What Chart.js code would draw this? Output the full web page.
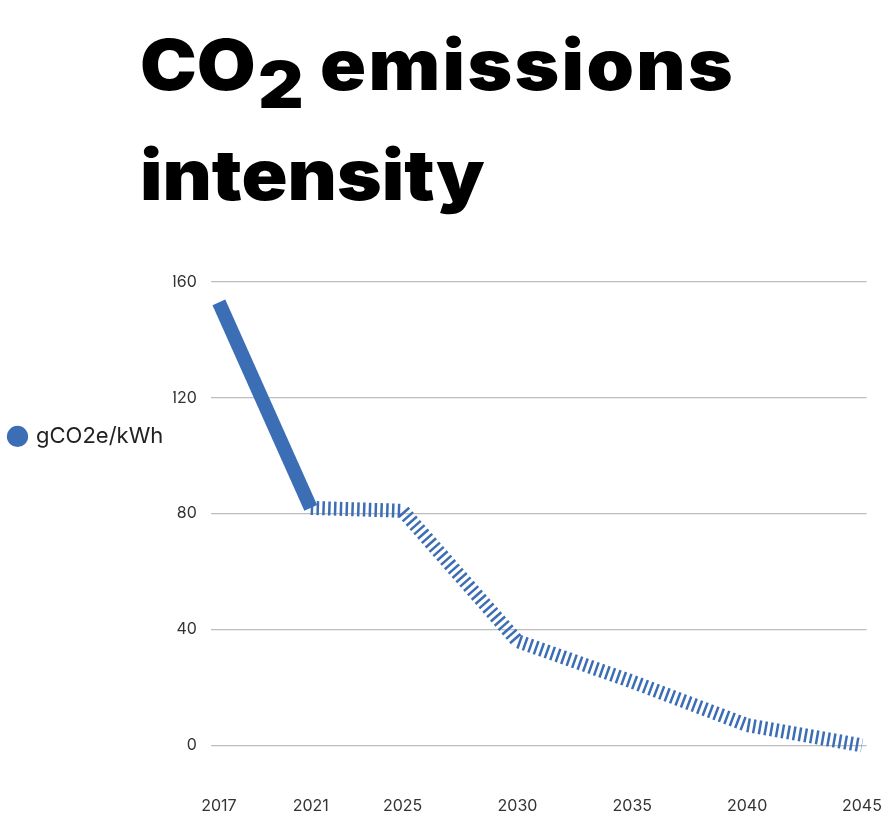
<!DOCTYPE html>
<html>
<head>
<meta charset="utf-8">
<script src="https://cdn.jsdelivr.net/npm/chart.js@4"></script>
<style>
  html, body { margin: 0; padding: 0; background: #fff; }
  body { width: 882px; height: 816px; position: relative; overflow: hidden; }
  h1 {
    position: absolute; left: 140px; top: 10px; margin: 0;
    font-family: Inter, "Liberation Sans", sans-serif; font-weight: 900;
    font-size: 70px; line-height: 110px; letter-spacing: 0; color: #000;
    transform: scaleX(1.086); transform-origin: left top; white-space: nowrap;
  }
  h1 sub { font-size: 0.93em; vertical-align: -0.27em; line-height: 0; margin-left: 2px; margin-right: 1px; }
  h1 .wide { letter-spacing: 2.2px; }
  #wrap { position: absolute; left: 0; top: 250px; width: 882px; height: 566px; }
</style>
</head>
<body>
<h1>CO<sub>2</sub> <span class="wide">emissions</span><br>intensity</h1>
<div id="wrap"><canvas id="myChart"></canvas></div>
<script>
// data
var years = [2017, 2021, 2025, 2030, 2035, 2040, 2045];
var intensity = [153, 82, 81, 36, 22, 7, 0];
var yTicks = [0, 40, 80, 120, 160];
var seriesName = 'gCO2e/kWh';

var blue = '#3b6eb5';
var font = 'Inter, "Liberation Sans", sans-serif';
var ctx = document.getElementById('myChart').getContext('2d');

var myChart = new Chart(ctx, {
    type: 'line',
    data: {
        datasets: [{
            label: seriesName,
            data: years.map(function (y, i) { return { x: y, y: intensity[i] }; }),
            borderColor: blue,
            backgroundColor: blue,
            borderWidth: 14,
            borderCapStyle: 'butt',
            borderJoinStyle: 'miter',
            pointRadius: 0,
            pointStyle: 'circle',
            tension: 0,
            // first stretch is actual, the rest is the dashed projection
            segment: {
                borderDash: function (c) { return c.p0DataIndex === 0 ? [] : [2.5, 3.3]; }
            }
        }]
    },
    options: {
        responsive: true,
        maintainAspectRatio: false,
        animation: false,
        layout: { padding: { top: 32, right: 15, bottom: 0, left: 0 } },
        plugins: {
            tooltip: { enabled: false },
            legend: {
                position: 'left',
                align: 'start',
                title: { display: true, text: ' ', padding: { top: 119, bottom: 0 } },
                labels: {
                    usePointStyle: true,
                    boxWidth: 15,
                    boxHeight: 15,
                    padding: 10,
                    color: '#222',
                    font: { family: font, size: 22 },
                    generateLabels: function (chart) {
                        var items = Chart.defaults.plugins.legend.labels.generateLabels(chart);
                        items.forEach(function (it) { it.lineWidth = 0; });
                        return items;
                    }
                }
            }
        },
        scales: {
            x: {
                type: 'linear',
                min: 2016.65,
                max: 2045.2,
                afterBuildTicks: function (s) { s.ticks = years.map(function (v) { return { value: v }; }); },
                grid: { display: false },
                border: { display: false },
                ticks: {
                    padding: 0,
                    color: '#333',
                    font: { family: font, size: 16 },
                    callback: function (v) { return String(v); }
                }
            },
            y: {
                min: -15,
                max: 160,
                afterBuildTicks: function (s) { s.ticks = yTicks.map(function (v) { return { value: v }; }); },
                afterFit: function (s) { s.width -= 17; },
                grid: { color: '#bdbdbd', lineWidth: 1.3, drawTicks: false },
                border: { display: false },
                ticks: {
                    padding: 14,
                    color: '#333',
                    font: { family: font, size: 16 }
                }
            }
        }
    }
});
</script>
</body>
</html>
